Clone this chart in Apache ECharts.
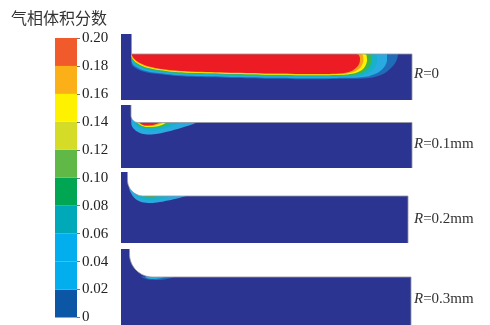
<!DOCTYPE html>
<html>
<head>
<meta charset="utf-8">
<script src="https://cdn.jsdelivr.net/npm/echarts@6/dist/echarts.min.js"></script>
<style>
  html, body { margin: 0; padding: 0; background: #fff; }
  #chart { width: 490px; height: 325px; }
</style>
</head>
<body>
<div id="chart"></div>
<script>
// colour bar
const legendTitle = '气相体积分数';
const legendTicks = [0, 0.02, 0.04, 0.06, 0.08, 0.10, 0.12, 0.14, 0.16, 0.18, 0.20];
const legendColors = ['#0b57a6', '#03aeee', '#03aeee', '#00a9b8', '#00a651', '#60b846', '#d4dc27', '#fff200', '#fbb017', '#f15a2a'];

// cases (fillet radius R)
const caseLabels = ['0', '0.1mm', '0.2mm', '0.3mm'];

// geometry of each case, same units as the contour points
const channelLength = [291, 291, 287, 290];
const channelHeight = [46, 45.5, 47, 48];
const inletTop = [66, 63, 71, 76];
const inletWidth = [10.5, 10, 6.5, 8.5];
const cornerRadius = [0, 7, 16, 23];

// gas fraction iso-bands, outer to inner: [level, outline]
const contourR0 = [
  [0.02, [[10.5,46],[277,46],[275.5,39.5],[270,32],[261,25.5],[246,21.8],[215,21.1],[190,20.8],[150,21.3],[110,22.1],[70,23.2],[45,25.1],[24,28],[13.5,32.5],[10.5,36]]],
  [0.04, [[10.5,46],[266,46],[266,39],[262,31.5],[254,26],[241,22.8],[215,22.1],[190,21.8],[150,22.3],[110,23.1],[70,24.2],[45,26.1],[25,29],[14.5,33.5],[10.5,38.5]]],
  [0.07, [[10.5,46],[255,46],[256,40],[254,33.5],[248,27.5],[237,24.2],[215,23.3],[190,23],[150,23.5],[110,24.3],[70,25.4],[45,27.3],[26,30.2],[15.5,34.5],[11,39],[10.5,42]]],
  [0.10, [[10.5,46],[249,46],[250.5,40.5],[249,34.5],[244,28.8],[233.5,25.3],[215,24.3],[190,24],[150,24.5],[110,25.3],[70,26.4],[45,28.3],[27,31.2],[16.5,35.5],[11.5,40],[10.5,43]]],
  [0.15, [[10.5,46],[244,46],[246,41],[245,35.5],[240.5,29.8],[231,26.3],[215,25.1],[190,24.8],[150,25.3],[110,26.1],[70,27.2],[45,29.1],[27.5,32],[17,36.2],[12,40.5],[10.5,43.5]]],
  [0.17, [[10.5,46],[240,46],[242.5,41.5],[241.5,36],[237.5,30.8],[229.5,27.2],[215,25.7],[190,25.4],[150,25.9],[110,26.7],[70,27.9],[45,29.8],[28,32.7],[17.5,36.8],[12.3,41],[10.5,44]]],
  [0.20, [[10.5,46],[236,46],[239,42],[238.5,37],[235,32],[228,28],[215,26.3],[190,26],[150,26.5],[110,27.3],[70,28.5],[45,30.5],[28,33.5],[18,37.5],[13,41.5],[11,44.5]]]
];
const contourR01 = [
  [0.04, [[10.2,49.5],[14,46.5],[77,46],[71,43.5],[60,40],[47,36.5],[35,34],[26,33.5],[19,35],[13.5,38.5],[10.5,43]]],
  [0.07, [[13,46.5],[60,46],[54,43.3],[44,39.8],[33,37.6],[25,37.8],[18.5,40],[14,43.5]]],
  [0.10, [[15,46.5],[52,46],[47,43.5],[38,40.7],[29,39.9],[22,41],[16.5,44]]],
  [0.15, [[16,46.5],[46,46],[42,43.6],[35,41.5],[27,41],[21,42.3],[17,44.7]]],
  [0.17, [[17,46.5],[43,46],[39,43.9],[33,42.3],[26,42],[21,43],[17.8,45]]],
  [0.20, [[18,46.5],[40,46],[36,44.2],[31,42.8],[25,42.6],[21,43.6],[18.5,45.3]]]
];
const contourR02 = [
  [0.04, [[8.5,57],[11,52],[16,48.5],[23,47.5],[66,47.5],[58,45],[47,42.5],[36,40.5],[27,40],[19,41.5],[13.5,45],[10,50],[8,55]]],
  [0.07, [[14,48],[22,47.5],[50,47.5],[44,45],[36,43.2],[28,42.8],[21,44],[15.5,46.5]]],
  [0.10, [[24,47.5],[36,47.5],[33,46],[28,45.3],[24.5,46.3]]]
];
const contourR03 = [
  [0.02, [[20,48.5],[54,48.5],[48,46.5],[38,45],[29,45.2],[23,46.8]]],
  [0.04, [[24,48.5],[45,48.5],[40,46.8],[33,46],[27,46.5]]]
];
const caseContours = [contourR0, contourR01, contourR02, contourR03];

const liquidColor = '#2b3591';
const bandLevels = [0.02, 0.04, 0.07, 0.10, 0.15, 0.17, 0.20];
const bandColors = ['#1f6cb8', '#29abe2', '#15b2c8', '#3db54a', '#fff200', '#f9a31b', '#ed1c24'];

function levelColor(v) {
  let c = liquidColor;
  bandLevels.forEach((l, i) => { if (v >= l) c = bandColors[i]; });
  return c;
}

const chart = echarts.init(document.getElementById('chart'));

// panel boxes on the page
const panelBox = [
  { left: 121, top: 34 },
  { left: 121, top: 105 },
  { left: 121, top: 172 },
  { left: 121, top: 249 }
];
const labelY = [74, 144, 219, 299];

const grids = [{ left: 55, top: 38, width: 22, height: 280 }];
const xAxes = [{ gridIndex: 0, type: 'category', data: [''], show: false }];
const yAxes = [{
  gridIndex: 0, type: 'value', position: 'right', min: 0, max: 0.2, interval: 0.02,
  axisLine: { show: false },
  axisTick: { show: true, inside: false, length: 3, lineStyle: { color: '#777' } },
  splitLine: { show: false },
  axisLabel: {
    margin: 5, color: '#222', fontFamily: 'Liberation Serif', fontSize: 15,
    formatter: v => (Math.abs(v) < 1e-9 ? '0' : v.toFixed(2))
  }
}];

const series = [];
legendColors.forEach((c, i) => {
  series.push({
    type: 'bar', xAxisIndex: 0, yAxisIndex: 0, stack: 'bar',
    barWidth: '100%', barCategoryGap: 0,
    itemStyle: { color: c },
    data: [+(legendTicks[i + 1] - legendTicks[i]).toFixed(4)],
    silent: true
  });
});

caseContours.forEach((list, p) => {
  const L = channelLength[p], T = inletTop[p], H = channelHeight[p];
  const w = inletWidth[p], r = cornerRadius[p];
  grids.push({ left: panelBox[p].left, top: panelBox[p].top, width: L, height: T });
  xAxes.push({ gridIndex: p + 1, type: 'value', min: 0, max: L, show: false });
  yAxes.push({ gridIndex: p + 1, type: 'value', min: 0, max: T, show: false });
  const ax = { xAxisIndex: p + 1, yAxisIndex: p + 1, silent: true, animation: false };

  // liquid domain background
  series.push(Object.assign({
    type: 'custom', z: 1, data: [[0, 0]],
    renderItem: (params, api) => {
      const a = api.coord([0, 0]), b = api.coord([L, T]);
      return { type: 'rect', shape: { x: a[0], y: b[1], width: b[0] - a[0], height: a[1] - b[1] }, style: { fill: liquidColor } };
    }
  }, ax));

  // iso-bands
  series.push(Object.assign({
    type: 'custom', z: 2, data: list.map((c, i) => [i, c[0]]),
    renderItem: (params, api) => {
      const c = list[params.dataIndex];
      const pts = c[1].map(q => api.coord(q));
      const xs = pts.map(q => q[0]), ys = pts.map(q => q[1]);
      return {
        type: 'polygon',
        shape: {
          points: pts, smooth: 0.4,
          smoothConstraint: [[Math.min(...xs), Math.min(...ys)], [Math.max(...xs), Math.max(...ys)]]
        },
        style: { fill: levelColor(c[0]) }
      };
    }
  }, ax));

  // solid wall above the channel, with the fillet
  series.push(Object.assign({
    type: 'custom', z: 3, data: [[0, 0]],
    renderItem: (params, api) => {
      const wall = [[w, T], [w, H + r]];
      if (r > 0) {
        for (let k = 1; k < 24; k++) {
          const t = Math.PI / 2 * k / 24;
          wall.push([w + r - r * Math.cos(t), H + r - r * Math.sin(t)]);
        }
      }
      wall.push([w + r, H], [L, H]);
      const maskPts = wall.concat([[L + 4, H], [L + 4, T + 4], [w, T + 4]]).map(q => api.coord(q));
      const edge = wall.concat([[L, 0]]).map(q => api.coord(q));
      return {
        type: 'group',
        children: [
          { type: 'polygon', shape: { points: maskPts }, style: { fill: '#ffffff' } },
          { type: 'polyline', shape: { points: edge }, style: { stroke: 'rgba(150,150,160,0.8)', lineWidth: 1, fill: null } }
        ]
      };
    }
  }, ax));
});

const graphic = [{
  type: 'text', x: 11, y: 18,
  style: { text: legendTitle, fontFamily: 'Noto Sans CJK SC', fontSize: 16, fill: '#333', verticalAlign: 'middle' }
}];
caseLabels.forEach((t, i) => {
  graphic.push({
    type: 'text', x: 414, y: labelY[i],
    style: {
      text: '{i|R}=' + t, verticalAlign: 'middle', fill: '#333',
      fontFamily: 'Liberation Serif', fontSize: 15,
      rich: { i: { fontStyle: 'italic', fontFamily: 'Liberation Serif', fontSize: 15, fill: '#333' } }
    }
  });
});

chart.setOption({
  animation: false,
  backgroundColor: '#fff',
  grid: grids,
  xAxis: xAxes,
  yAxis: yAxes,
  series: series,
  graphic: graphic
});
</script>
</body>
</html>
